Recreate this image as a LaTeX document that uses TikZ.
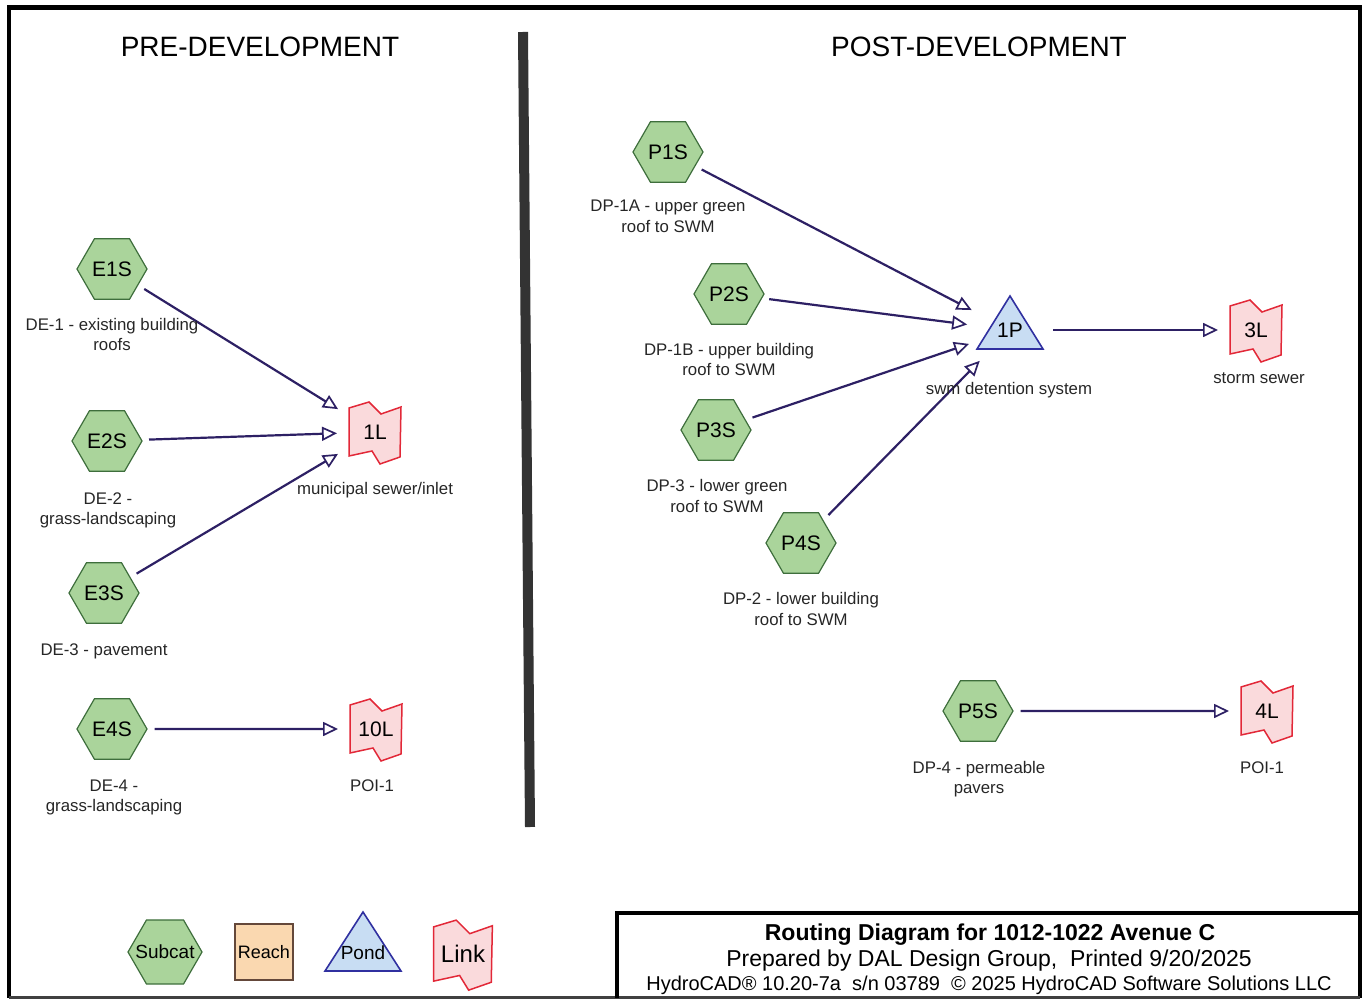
\documentclass[tikz,border=0pt]{standalone}
\usepackage{fontspec,tikz}
\setmainfont{Liberation Sans}
\usetikzlibrary{shapes.geometric,arrows.meta}

\definecolor{subfill}{RGB}{170,212,155}
\definecolor{subline}{RGB}{62,110,60}
\definecolor{linkfill}{RGB}{250,218,220}
\definecolor{linkline}{RGB}{226,40,56}
\definecolor{pondfill}{RGB}{200,221,243}
\definecolor{pondline}{RGB}{48,48,160}
\definecolor{reachfill}{RGB}{250,216,176}
\definecolor{reachline}{RGB}{100,72,58}
\definecolor{flowline}{RGB}{45,32,100}

% link symbol (folded flag), drawn round a centre point
\newcommand{\linkflag}[2][1]{%
  \filldraw[flag,shift={#2},scale=#1] (-26,-24) -- (-6,-30) -- (6,-18) -- (26,-25)
    -- (25,25) -- (5,32) -- (-3,19) -- (-26,24) -- cycle;}

\begin{document}
\begin{tikzpicture}[x=1pt,y=-1pt,
  subcat/.style={regular polygon,regular polygon sides=6,minimum size=70pt,inner sep=0pt,
    draw=subline,fill=subfill,line width=1.2pt,font=\fontsize{21}{25}\selectfont},
  flag/.style={draw=linkline,fill=linkfill,line width=1.5pt},
  pond/.style={draw=pondline,fill=pondfill,line width=1.6pt,line join=miter},
  linkbox/.style={minimum width=52pt,minimum height=54pt,inner sep=0pt,outer sep=5pt,
    font=\fontsize{21}{25}\selectfont},
  pondbox/.style={circle,minimum size=72pt,inner sep=0pt,font=\fontsize{21}{25}\selectfont},
  lbl/.style={anchor=base,inner sep=0pt,font=\fontsize{16.8}{20}\selectfont,text=black!85},
  head/.style={anchor=base,inner sep=0pt,font=\fontsize{28}{33}\selectfont},
  flow/.style={draw=flowline,line width=2.2pt,shorten <=7pt,shorten >=7pt,
    -{Triangle[open,length=15pt,width=14pt,line width=1.7pt]}}]
\path[use as bounding box] (0,0) rectangle (1369,1000);
\draw[line width=4.5pt] (9,997.5) -- (9,7.5) -- (1360,7.5) -- (1360,997.5);
\draw[line width=3pt,black!75] (9,997.5) -- (1360,997.5);
\draw[line width=10pt,black!80] (523,32) -- (530,827);
\node[head] (pre) at (260,57) {PRE-DEVELOPMENT};
\node[head] (post) at (979,57) {POST-DEVELOPMENT};
% links and pond
\linkflag{(375,432)}
\node[linkbox] (1L) at (375,432) {1L};
\linkflag{(376,729)}
\node[linkbox] (10L) at (376,729) {10L};
\linkflag{(1256,330)}
\node[linkbox] (3L) at (1256,330) {3L};
\linkflag{(1267,711)}
\node[linkbox] (4L) at (1267,711) {4L};
\filldraw[pond] (1010,296) -- (1043,349) -- (977,349) -- cycle;
\node[pondbox] (1P) at (1010,330) {1P};
% subcatchments
\node[subcat] (E1S) at (112,269) {E1S};
\node[subcat] (E2S) at (107,441) {E2S};
\node[subcat] (E3S) at (104,593) {E3S};
\node[subcat] (E4S) at (112,729) {E4S};
\node[subcat] (P1S) at (668,152) {P1S};
\node[subcat] (P2S) at (729,294) {P2S};
\node[subcat] (P3S) at (716,430) {P3S};
\node[subcat] (P4S) at (801,543) {P4S};
\node[subcat] (P5S) at (978,711) {P5S};
% routing
\draw[flow] (E1S) -- (1L);
\draw[flow] (E2S) -- (1L);
\draw[flow] (E3S) -- (1L);
\draw[flow] (E4S) -- (10L);
\draw[flow] (P1S) -- (1P);
\draw[flow] (P2S) -- (1P);
\draw[flow] (P3S) -- (1P);
\draw[flow] (P4S) -- (1P);
\draw[flow] (1P) -- (3L);
\draw[flow] (P5S) -- (4L);
% labels
\node[lbl] (E1S-a) at (112,331) {DE-1 - existing building};
\node[lbl] (E1S-b) at (112,351) {roofs};
\node[lbl] (E2S-a) at (108,504) {DE-2 -};
\node[lbl] (E2S-b) at (108,524) {grass-landscaping};
\node[lbl] (E3S-a) at (104,655) {DE-3 - pavement};
\node[lbl] (E4S-a) at (114,791) {DE-4 -};
\node[lbl] (E4S-b) at (114,811) {grass-landscaping};
\node[lbl] (1L-a) at (375,494) {municipal sewer/inlet};
\node[lbl] (10L-a) at (372,791) {POI-1};
\node[lbl] (P1S-a) at (668,212) {DP-1A - upper green};
\node[lbl] (P1S-b) at (668,233) {roof to SWM};
\node[lbl] (P2S-a) at (729,356) {DP-1B - upper building};
\node[lbl] (P2S-b) at (729,376) {roof to SWM};
\node[lbl] (P3S-a) at (717,491) {DP-3 - lower green};
\node[lbl] (P3S-b) at (717,512) {roof to SWM};
\node[lbl] (P4S-a) at (801,604) {DP-2 - lower building};
\node[lbl] (P4S-b) at (801,625) {roof to SWM};
\node[lbl] (P5S-a) at (979,773) {DP-4 - permeable};
\node[lbl] (P5S-b) at (979,793) {pavers};
\node[lbl] (1P-a) at (1009,395) {swm detention system};
\node[lbl] (3L-a) at (1259,384) {storm sewer};
\node[lbl] (4L-a) at (1262,773) {POI-1};
% legend
\node[subcat,minimum size=74pt,font=\fontsize{19}{23}\selectfont] (key-sub) at (165,952) {\makebox[0pt]{Subcat}};
\node[draw=reachline,fill=reachfill,line width=1.5pt,minimum width=58pt,minimum height=56pt,inner sep=0pt,
  font=\fontsize{18}{22}\selectfont] (key-reach) at (264,952) {Reach};
\filldraw[pond] (363,912) -- (401,971) -- (325,971) -- cycle;
\node[inner sep=0pt,font=\fontsize{19}{23}\selectfont] (key-pond) at (363,953) {Pond};
\linkflag[1.13]{(463,954)}
\node[inner sep=0pt,font=\fontsize{24}{28}\selectfont] (key-link) at (463,954) {Link};
% title block
\draw[line width=3.5pt] (617,997.5) -- (617,913) -- (1360,913);
\node[anchor=base,inner sep=0pt,font=\fontsize{23}{27}\selectfont\bfseries] (title) at (990,940) {Routing Diagram for 1012-1022 Avenue C};
\node[anchor=base,inner sep=0pt,font=\fontsize{23}{27}\selectfont] (prep) at (989,966) {Prepared by DAL Design Group,\ \ Printed 9/20/2025};
\node[anchor=base,inner sep=0pt,font=\fontsize{20}{24}\selectfont] (soft) at (989,990) {HydroCAD® 10.20-7a\ \ s/n 03789\ \ © 2025 HydroCAD Software Solutions LLC};
\end{tikzpicture}
\end{document}
